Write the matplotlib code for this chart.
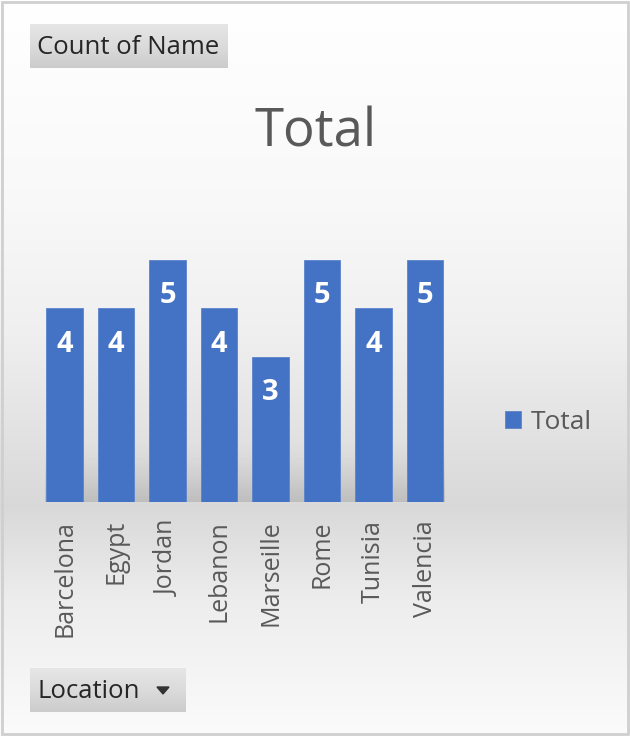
import numpy as np
import matplotlib
matplotlib.use('Agg')
import matplotlib.pyplot as plt
from matplotlib.patches import Rectangle, Polygon

plt.rcParams['font.family'] = ['Open Sans', 'DejaVu Sans']

locations = ['Barcelona', 'Egypt', 'Jordan', 'Lebanon', 'Marseille',
             'Rome', 'Tunisia', 'Valencia']
counts = [4, 4, 5, 4, 3, 5, 4, 5]
series_name = 'Total'

W, H = 630, 736
BAR = '#4472C4'
GREY_TXT = '#595959'


def fx(x):
    return x / W


def fy(y):
    return 1 - y / H


def vgrad(values, n):
    # rgb array, n rows x 4 cols, grey levels from a profile
    g = np.interp(np.linspace(0, 1, n), np.linspace(0, 1, len(values)), values)
    return np.repeat(np.repeat(g[:, None, None], 4, axis=1), 3, axis=2)


fig = plt.figure(figsize=(W / 100, H / 100), dpi=100)

# background gradient over the whole chart
bg = fig.add_axes([0, 0, 1, 1], zorder=-1)
ys = np.array([0, 200, 330, 505, 600, 736])
vs = np.array([1.0, 0.975, 0.94, 0.85, 0.93, 0.985])
col = np.interp(np.arange(H), ys, vs)
img = np.repeat(np.repeat(col[:, None, None], 4, axis=1), 3, axis=2)
bg.imshow(img, aspect='auto', extent=[0, W, H, 0], interpolation='nearest')
bg.set_xlim(0, W)
bg.set_ylim(H, 0)
bg.axis('off')
bg.add_patch(Rectangle((2, 2), W - 4, H - 4, fill=False, ec='#cfcfcf', lw=2))

# main plot area
ax = fig.add_axes([fx(38.75), fy(502), 412 / W, 242 / H])
ax.patch.set_alpha(0)
xs = np.arange(len(locations))

# soft shadow at the bottom of the plot area
shade = np.linspace(0, 1, 60)[:, None] ** 1.5
rgba = np.zeros((60, 4, 4))
rgba[..., :3] = 0.55
rgba[..., 3] = (shade * 0.35).repeat(4, axis=1)
ax.imshow(rgba, extent=[-0.38, 7.38, 0, 1.3], aspect='auto', origin='upper',
          interpolation='nearest', zorder=0)

bars = ax.bar(xs, counts, width=0.7, color=BAR, edgecolor='#5b83cc',
              linewidth=0.6, zorder=2)
for x, v in zip(xs, counts):
    ax.annotate(str(v), (x, v), xytext=(0, -36), textcoords='offset pixels',
                ha='center', va='center', color='white', fontsize=21,
                fontweight='bold', zorder=3)

ax.set_xlim(-0.5, 7.5)
ax.set_ylim(0, 5)
ax.set_xticks(xs)
ax.set_xticklabels(locations, rotation=90, fontsize=18, color=GREY_TXT)
ax.tick_params(axis='x', length=0, pad=13)
ax.set_yticks([])
for s in ax.spines.values():
    s.set_visible(False)

ax.legend([bars[0]], [series_name], loc='center left',
          bbox_to_anchor=(fx(505), fy(422)), bbox_transform=fig.transFigure,
          frameon=False, fontsize=19, handlelength=0.62, handleheight=0.62,
          handletextpad=0.35, borderpad=0, borderaxespad=0,
          labelcolor=GREY_TXT)

fig.text(fx(316), fy(133), 'Total', fontsize=38, color=GREY_TXT,
         ha='center', va='center')


# pivot field buttons
def button(x0, y0, x1, y1, label):
    b = fig.add_axes([fx(x0), fy(y1), (x1 - x0) / W, (y1 - y0) / H])
    b.imshow(vgrad([0.90, 0.86, 0.80], 44), aspect='auto',
             extent=[0, 1, 0, 1], interpolation='nearest')
    b.set_xlim(0, 1)
    b.set_ylim(0, 1)
    b.axis('off')
    fig.text(fx(x0 + 7), fy((y0 + y1) / 2 + 1), label, fontsize=18.5,
             color='#262626', ha='left', va='center')


button(30, 24, 228, 68, 'Count of Name')
button(30, 668, 186, 712, 'Location')
tri = [[fx(157), fy(687)], [fx(169), fy(687)], [fx(163), fy(694)]]
fig.add_artist(Polygon(tri, closed=True, color='#333333',
                       transform=fig.transFigure, zorder=10))

fig.savefig('out.png', dpi=100)
